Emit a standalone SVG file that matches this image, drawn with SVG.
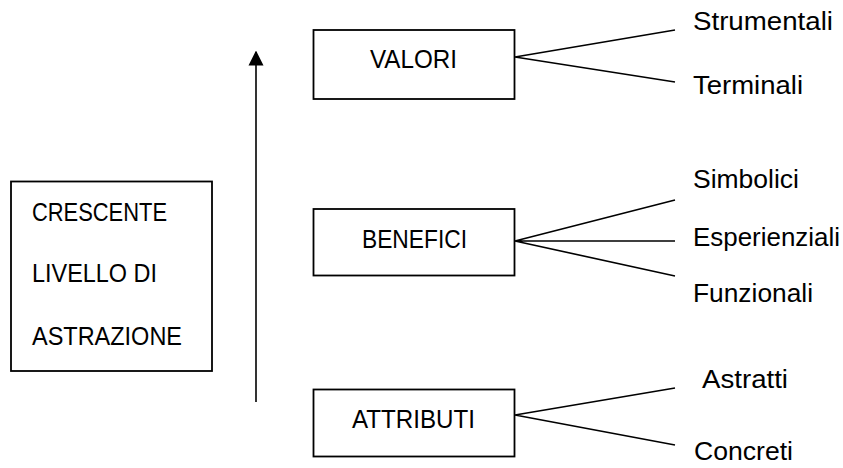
<svg xmlns="http://www.w3.org/2000/svg" width="843" height="468" viewBox="0 0 843 468">
<style>
  .box{fill:#fff;stroke:#000;stroke-width:1.8}
  .t{font-family:"Liberation Sans",Arial,sans-serif;font-size:25px;fill:#000}
  .c{stroke:#000;stroke-width:1.6;fill:none}
</style>
<defs>
  <marker id="ah" viewBox="0 0 10 10" refX="9" refY="5" markerWidth="15" markerHeight="16" markerUnits="userSpaceOnUse" orient="auto">
    <path d="M0,0 L10,5 L0,10 Z" fill="#000"/>
  </marker>
</defs>
<rect width="843" height="468" fill="#fff"/>
<g id="livello">
  <rect class="box" x="11" y="181.5" width="201" height="189.5"/>
  <text class="t" x="32" y="221" textLength="135" lengthAdjust="spacingAndGlyphs">CRESCENTE</text>
  <text class="t" x="32" y="282" textLength="125" lengthAdjust="spacingAndGlyphs">LIVELLO DI</text>
  <text class="t" x="32" y="345" textLength="150" lengthAdjust="spacingAndGlyphs">ASTRAZIONE</text>
</g>
<g id="valori">
  <rect class="box" x="313.5" y="30" width="201" height="69"/>
  <text class="t" x="370" y="68" textLength="87" lengthAdjust="spacingAndGlyphs">VALORI</text>
</g>
<g id="benefici">
  <rect class="box" x="313.5" y="209" width="201" height="66.5"/>
  <text class="t" x="362" y="248" textLength="105" lengthAdjust="spacingAndGlyphs">BENEFICI</text>
</g>
<g id="attributi">
  <rect class="box" x="313.5" y="389.5" width="201" height="67"/>
  <text class="t" x="352" y="428" textLength="123" lengthAdjust="spacingAndGlyphs">ATTRIBUTI</text>
</g>
<g id="strumentali"><text class="t" x="693" y="30" textLength="140" lengthAdjust="spacingAndGlyphs">Strumentali</text></g>
<g id="terminali"><text class="t" x="693" y="94" textLength="110" lengthAdjust="spacingAndGlyphs">Terminali</text></g>
<g id="simbolici"><text class="t" x="693" y="188" textLength="106" lengthAdjust="spacingAndGlyphs">Simbolici</text></g>
<g id="esperienziali"><text class="t" x="693" y="246" textLength="147" lengthAdjust="spacingAndGlyphs">Esperienziali</text></g>
<g id="funzionali"><text class="t" x="693" y="302" textLength="120" lengthAdjust="spacingAndGlyphs">Funzionali</text></g>
<g id="astratti"><text class="t" x="702" y="388" textLength="86" lengthAdjust="spacingAndGlyphs">Astratti</text></g>
<g id="concreti"><text class="t" x="694" y="460" textLength="99" lengthAdjust="spacingAndGlyphs">Concreti</text></g>
<g id="connectors">
  <line class="c" x1="256" y1="402" x2="256" y2="52" marker-end="url(#ah)"/>
  <path class="c" d="M515,57 L675,30 M515,57 L675,82"/>
  <path class="c" d="M515,241 L675,200 M515,241 L675,241 M515,241 L675,276"/>
  <path class="c" d="M515,415 L675,388 M515,415 L675,445"/>
</g>
</svg>
